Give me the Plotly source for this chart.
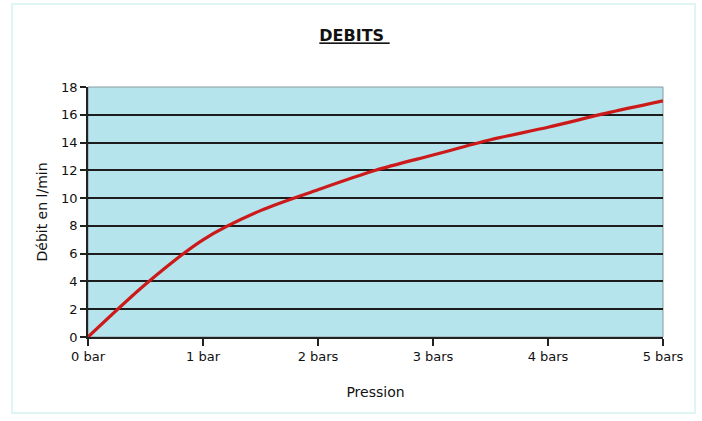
import plotly.graph_objects as go

pression = [0, 0.5, 1, 1.5, 2, 2.5, 3, 3.5, 4, 4.5, 5]
debit = [0, 3.8, 7.0, 9.1, 10.6, 12.0, 13.1, 14.2, 15.1, 16.1, 17.0]
tick_vals = [0, 1, 2, 3, 4, 5]
tick_text = ["0 bar", "1 bar", "2 bars", "3 bars", "4 bars", "5 bars"]
y_ticks = [0, 2, 4, 6, 8, 10, 12, 14, 16, 18]

font_fam = "DejaVu Sans, Verdana, sans-serif"

fig = go.Figure()
fig.add_trace(go.Scatter(
    x=pression, y=debit, mode="lines",
    line=dict(color="#cc1a1a", width=3.2, shape="spline", smoothing=0.8),
    showlegend=False, hoverinfo="x+y",
))

fig.update_layout(
    width=702, height=421,
    margin=dict(l=88, r=39, t=87, b=84),
    paper_bgcolor="white",
    plot_bgcolor="#b6e4ec",
    font=dict(family=font_fam, size=12, color="#111"),
    title=dict(text="<b><u>DEBITS </u></b>", x=0.505, xanchor="center",
               y=0.915, yanchor="middle",
               font=dict(family=font_fam, size=16, color="#111")),
    xaxis=dict(
        range=[0, 5], tickvals=tick_vals, ticktext=tick_text,
        showgrid=False, zeroline=False,
        showline=True, linecolor="#222", linewidth=1.5,
        ticks="outside", ticklen=7, tickcolor="#222", tickwidth=1.5,
        mirror=False,
        title=dict(text="Pression", standoff=24, font=dict(size=14)),
        tickfont=dict(size=13),
    ),
    yaxis=dict(
        range=[0, 18], tickvals=y_ticks,
        showgrid=True, gridcolor="#1c1c1c", gridwidth=1.6,
        zeroline=False,
        showline=True, linecolor="#222", linewidth=1.5,
        ticks="outside", ticklen=6, tickcolor="#222", tickwidth=1.5,
        title=dict(text="Débit en l/min", standoff=10, font=dict(size=14)),
        tickfont=dict(size=13),
    ),
    shapes=[
        dict(type="rect", xref="x domain", yref="y domain",
             x0=0, x1=1, y0=0, y1=1,
             line=dict(color="#8a9a9c", width=1), layer="below"),
        dict(type="rect", xref="x domain", yref="y domain",
             x0=-76/575, x1=1+32/575, y0=-76/250, y1=1+83/250,
             line=dict(color="#dff5f3", width=2), layer="below"),
    ],
)

fig.write_html("out.html", config={"displayModeBar": False},
               post_script="document.body.style.margin='0';")
